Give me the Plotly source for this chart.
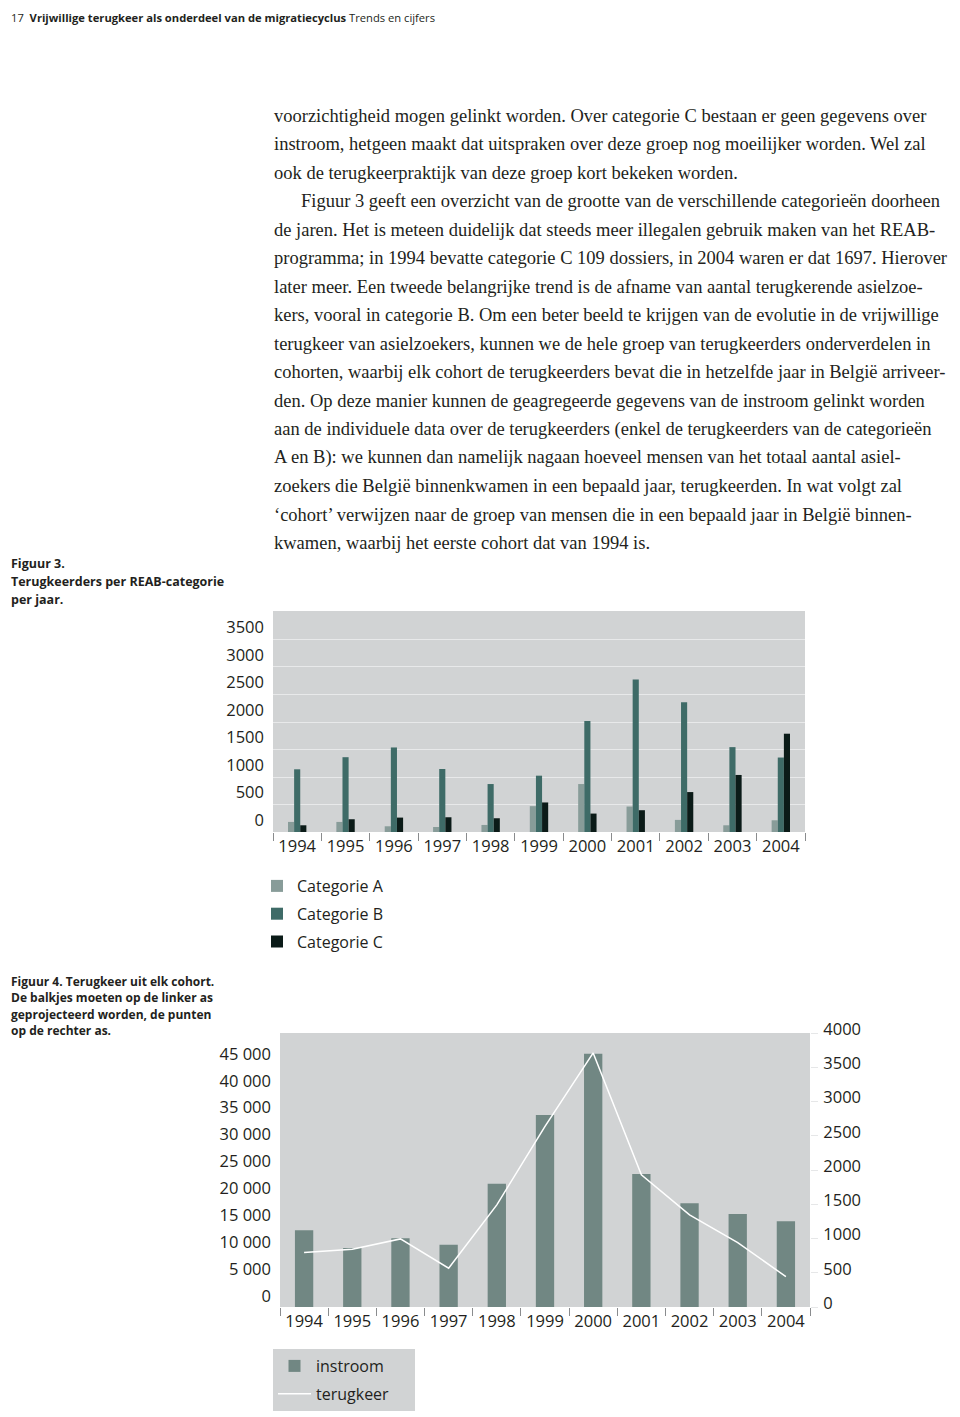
import plotly.graph_objects as go

W, H = 960, 1417
OX, OY = -8, -8  # page body margin of the browser

def px(x):
    return (x + OX) / W

def py(y):
    return 1 - (y + OY) / H

# ---- data ----
years = ["1994", "1995", "1996", "1997", "1998", "1999", "2000", "2001", "2002", "2003", "2004"]

cat_a = [183, 183, 104, 91, 128, 470, 872, 463, 220, 122, 213]
cat_b = [1140, 1360, 1537, 1146, 872, 1024, 2018, 2774, 2360, 1543, 1354]
cat_c = [122, 232, 262, 268, 250, 537, 335, 396, 726, 1037, 1787]

instroom = [14250, 10970, 12760, 11590, 22920, 35690, 47090, 24720, 19270, 17290, 15920]
terugkeer = [794, 843, 994, 566, 1491, 2636, 3709, 1930, 1345, 940, 443]

left_ticks = [0, 5000, 10000, 15000, 20000, 25000, 30000, 35000, 40000, 45000]
left_labels = ["0", "5 000", "10 000", "15 000", "20 000", "25 000", "30 000", "35 000", "40 000", "45 000"]
right_ticks = [0, 500, 1000, 1500, 2000, 2500, 3000, 3500, 4000]
fig3_ticks = [0, 500, 1000, 1500, 2000, 2500, 3000, 3500]

body_lines = [
    "voorzichtigheid mogen gelinkt worden. Over categorie C bestaan er geen gegevens over",
    "instroom, hetgeen maakt dat uitspraken over deze groep nog moeilijker worden. Wel zal",
    "ook de terugkeerpraktijk van deze groep kort bekeken worden.",
    "Figuur 3 geeft een overzicht van de grootte van de verschillende categorieën doorheen",
    "de jaren. Het is meteen duidelijk dat steeds meer illegalen gebruik maken van het REAB-",
    "programma; in 1994 bevatte categorie C 109 dossiers, in 2004 waren er dat 1697. Hierover",
    "later meer. Een tweede belangrijke trend is de afname van aantal terugkerende asielzoe-",
    "kers, vooral in categorie B. Om een beter beeld te krijgen van de evolutie in de vrijwillige",
    "terugkeer van asielzoekers, kunnen we de hele groep van terugkeerders onderverdelen in",
    "cohorten, waarbij elk cohort de terugkeerders bevat die in hetzelfde jaar in België arriveer-",
    "den. Op deze manier kunnen de geagregeerde gegevens van de instroom gelinkt worden",
    "aan de individuele data over de terugkeerders (enkel de terugkeerders van de categorieën",
    "A en B): we kunnen dan namelijk nagaan hoeveel mensen van het totaal aantal asiel-",
    "zoekers die België binnenkwamen in een bepaald jaar, terugkeerden. In wat volgt zal",
    "‘cohort’ verwijzen naar de groep van mensen die in een bepaald jaar in België binnen-",
    "kwamen, waarbij het eerste cohort dat van 1994 is.",
]

SANS = "Open Sans"
SERIF = "Liberation Serif"
INK = "#231f20"
BG = "#d1d3d4"
PAD = "\u00a0" * 5  # widens the grey legend box of figure 4

fig = go.Figure()

# Figuur 3
fig.add_trace(go.Bar(x=years, y=cat_a, name="Categorie A", marker_color="#889c99",
                     xaxis="x", yaxis="y", legend="legend", legendgroup="a"))
fig.add_trace(go.Bar(x=years, y=cat_b, name="Categorie B", marker_color="#3e6b67",
                     xaxis="x", yaxis="y", legend="legend", legendgroup="b"))
fig.add_trace(go.Bar(x=years, y=cat_c, name="Categorie C", marker_color="#0b1b18",
                     xaxis="x", yaxis="y", legend="legend", legendgroup="c"))

# Figuur 4
fig.add_trace(go.Bar(x=years, y=instroom, name="instroom", marker_color="#718783",
                     xaxis="x2", yaxis="y2", legend="legend2", legendgroup="i"))
fig.add_trace(go.Scatter(x=years, y=terugkeer, name="terugkeer" + PAD, mode="lines",
                         line=dict(color="white", width=1.5),
                         xaxis="x2", yaxis="y3", legend="legend2", legendgroup="t"))

xcommon = dict(type="category", tickson="boundaries", ticks="outside", ticklen=8,
               tickcolor="#8a8c8e", tickwidth=1, showgrid=False, showline=False,
               zeroline=False, automargin=False, ticklabelstandoff=2,
               tickfont=dict(family=SANS, size=16.5, color=INK))

fig.update_layout(
    template="none",
    width=W, height=H,
    margin=dict(l=0, r=0, t=0, b=0),
    paper_bgcolor="white",
    plot_bgcolor=BG,
    barmode="group",
    bargap=0.62,
    bargroupgap=0,
    showlegend=True,
    xaxis=dict(domain=[px(273), px(805)], anchor="y", **xcommon),
    yaxis=dict(domain=[py(832), py(611)], range=[0, 4018], tickvals=fig3_ticks,
               showgrid=True, gridcolor="#e8e9ea", gridwidth=1, zeroline=False,
               ticks="", ticklabelshift=-12, ticklabelstandoff=8, automargin=False,
               tickfont=dict(family=SANS, size=16.5, color=INK)),
    xaxis2=dict(domain=[px(280), px(810)], anchor="y2", **xcommon),
    yaxis2=dict(domain=[py(1307), py(1033)], anchor="x2", range=[0, 50930],
                tickvals=left_ticks, ticktext=left_labels, showgrid=False,
                zeroline=False, ticks="", ticklabelshift=-11, ticklabelstandoff=8,
                automargin=False,
                tickfont=dict(family=SANS, size=16.5, color=INK)),
    yaxis3=dict(overlaying="y2", side="right", anchor="x2", range=[0, 4000],
                tickvals=right_ticks, showgrid=False, zeroline=False,
                ticks="outside", ticklen=7, tickcolor="#e6e7e8",
                ticklabelshift=-4, ticklabelstandoff=2, automargin=False,
                tickfont=dict(family=SANS, size=16.5, color=INK)),
    legend=dict(x=px(257), y=py(869), xanchor="left", yanchor="top",
                bgcolor="rgba(0,0,0,0)", traceorder="grouped", tracegroupgap=4,
                font=dict(family=SANS, size=16, color=INK)),
    legend2=dict(x=px(273), y=py(1349), xanchor="left", yanchor="top",
                 bgcolor=BG, traceorder="grouped", tracegroupgap=4, itemwidth=33,
                 font=dict(family=SANS, size=16, color=INK)),
)

annotations = []

# running header (the page margin keeps it from reaching the very top)
annotations.append(dict(
    text="17  <b>Vrijwillige terugkeer als onderdeel van de migratiecyclus</b> Trends en cijfers",
    x=px(9), y=1, xanchor="left", yanchor="top",
    font=dict(family=SANS, size=11.2, color=INK)))

# captions
cap3 = [("Figuur 3.", 563), ("Terugkeerders per REAB-categorie", 581), ("per jaar.", 599)]
for t, yy in cap3:
    annotations.append(dict(text="<b>" + t + "</b>", x=px(9), y=py(yy), xanchor="left",
                            yanchor="middle", font=dict(family=SANS, size=12.5, color=INK)))

cap4 = [("Figuur 4. Terugkeer uit elk cohort.", 981),
        ("De balkjes moeten op de linker as", 997),
        ("geprojecteerd worden, de punten", 1014),
        ("op de rechter as.", 1030)]
for t, yy in cap4:
    annotations.append(dict(text="<b>" + t + "</b>", x=px(9), y=py(yy), xanchor="left",
                            yanchor="middle", font=dict(family=SANS, size=12, color=INK)))

# body text
y0, step = 116, 28.47
for i, line in enumerate(body_lines):
    xx = 299 if i == 3 else 272
    annotations.append(dict(text=line, x=px(xx), y=py(y0 + i * step), xanchor="left",
                            yanchor="middle",
                            font=dict(family=SERIF, size=18.5, color=INK)))

for a in annotations:
    a.update(xref="paper", yref="paper", showarrow=False)

fig.update_layout(annotations=annotations)

fig.write_html("out.html")
